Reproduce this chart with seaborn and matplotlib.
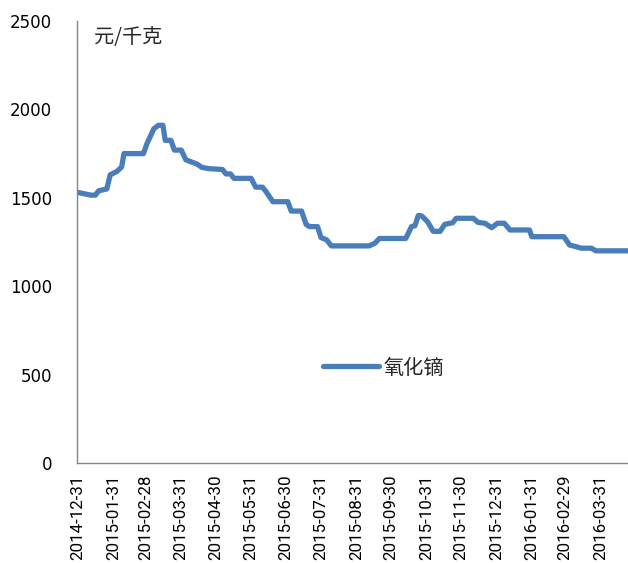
import matplotlib
matplotlib.use("Agg")
import matplotlib.pyplot as plt
import matplotlib.dates as mdates
import pandas as pd
import seaborn as sns

# Dysprosium oxide price (yuan/kg), change points of the daily quote
dates = [
    "2014-12-31", "2015-01-11", "2015-01-15", "2015-01-18", "2015-01-25",
    "2015-01-28", "2015-02-03", "2015-02-07", "2015-02-09", "2015-02-26",
    "2015-03-01", "2015-03-07", "2015-03-11", "2015-03-15", "2015-03-17",
    "2015-03-22", "2015-03-25", "2015-03-31", "2015-04-04", "2015-04-08",
    "2015-04-14", "2015-04-18", "2015-04-24", "2015-05-06", "2015-05-09",
    "2015-05-13", "2015-05-16", "2015-05-31", "2015-06-04", "2015-06-10",
    "2015-06-13", "2015-06-19", "2015-07-02", "2015-07-05", "2015-07-14",
    "2015-07-18", "2015-07-21", "2015-07-28", "2015-07-31", "2015-08-05",
    "2015-08-09", "2015-09-11", "2015-09-16", "2015-09-20", "2015-10-13",
    "2015-10-18", "2015-10-21", "2015-10-24", "2015-10-27", "2015-11-01",
    "2015-11-06", "2015-11-12", "2015-11-16", "2015-11-23", "2015-11-26",
    "2015-12-11", "2015-12-15", "2015-12-21", "2015-12-27", "2016-01-01",
    "2016-01-07", "2016-01-12", "2016-01-29", "2016-01-31", "2016-02-28",
    "2016-03-04", "2016-03-10", "2016-03-14", "2016-03-23", "2016-03-27",
    "2016-04-24",
]
prices = [
    1530, 1515, 1515, 1540, 1550,
    1630, 1650, 1675, 1750, 1750,
    1805, 1890, 1910, 1910, 1825,
    1825, 1770, 1770, 1715, 1705,
    1690, 1672, 1665, 1660, 1635,
    1635, 1610, 1610, 1560, 1560,
    1535, 1478, 1478, 1425, 1425,
    1350, 1337, 1337, 1275, 1262,
    1228, 1228, 1243, 1270, 1270,
    1337, 1342, 1400, 1397, 1365,
    1310, 1310, 1350, 1359, 1384,
    1384, 1361, 1356, 1331, 1356,
    1356, 1318, 1318, 1280, 1280,
    1233, 1223, 1215, 1215, 1200,
    1200,
]
series_name = "氧化镝"
unit_label = "元/千克"

tick_dates = [
    "2014-12-31", "2015-01-31", "2015-02-28", "2015-03-31", "2015-04-30",
    "2015-05-31", "2015-06-30", "2015-07-31", "2015-08-31", "2015-09-30",
    "2015-10-31", "2015-11-30", "2015-12-31", "2016-01-31", "2016-02-29",
    "2016-03-31",
]
y_ticks = [0, 500, 1000, 1500, 2000, 2500]

df = pd.DataFrame({"date": pd.to_datetime(dates), "price": prices})

sns.set_style("white")
plt.rcParams["font.family"] = ["DejaVu Sans", "Noto Sans CJK SC"]

fig = plt.figure(figsize=(6.28, 5.63), dpi=100)
ax = fig.add_axes([77 / 628, 1 - 463 / 563, 551 / 628, 442 / 563])

line_color = "#4A7EBB"
sns.lineplot(data=df, x="date", y="price", ax=ax, color=line_color,
             linewidth=3.8, label=series_name,
             solid_joinstyle="round", solid_capstyle="round")

ax.set_xlim(pd.Timestamp("2014-12-30"), pd.Timestamp("2016-04-24"))
ax.set_ylim(0, 2500)
ax.set_yticks(y_ticks)
ax.set_yticklabels([str(v) for v in y_ticks])
ax.set_xticks(pd.to_datetime(tick_dates))
ax.xaxis.set_major_formatter(mdates.DateFormatter("%Y-%m-%d"))
ax.set_xlabel("")
ax.set_ylabel("")

ax.tick_params(axis="y", length=0, pad=18, labelsize=12, labelcolor="#000000")
ax.tick_params(axis="x", length=0, pad=8.5, labelcolor="#000000",
               labelrotation=90)
for lbl in ax.get_xticklabels():
    lbl.set_fontfamily("Roboto")
    lbl.set_fontsize(12.2)

for side in ("top", "right"):
    ax.spines[side].set_visible(False)
for side in ("left", "bottom"):
    ax.spines[side].set_color("#868686")
    ax.spines[side].set_linewidth(1.0)

fig.text(94 / 628, 1 - 38 / 563, unit_label, fontsize=14.5,
         family=["Noto Sans CJK SC", "DejaVu Sans"], color="#262626",
         ha="left", va="center")

leg = ax.legend(loc="center left", bbox_to_anchor=(323 / 628, 1 - 368 / 563),
                bbox_transform=fig.transFigure, frameon=False,
                handlelength=2.8, handletextpad=0.2, borderpad=0,
                borderaxespad=0,
                prop={"family": ["Noto Sans CJK SC", "DejaVu Sans"],
                      "size": 14.5})
for t in leg.get_texts():
    t.set_color("#262626")
for h in leg.get_lines():
    h.set_solid_capstyle("round")

fig.savefig("out.png", dpi=100)
